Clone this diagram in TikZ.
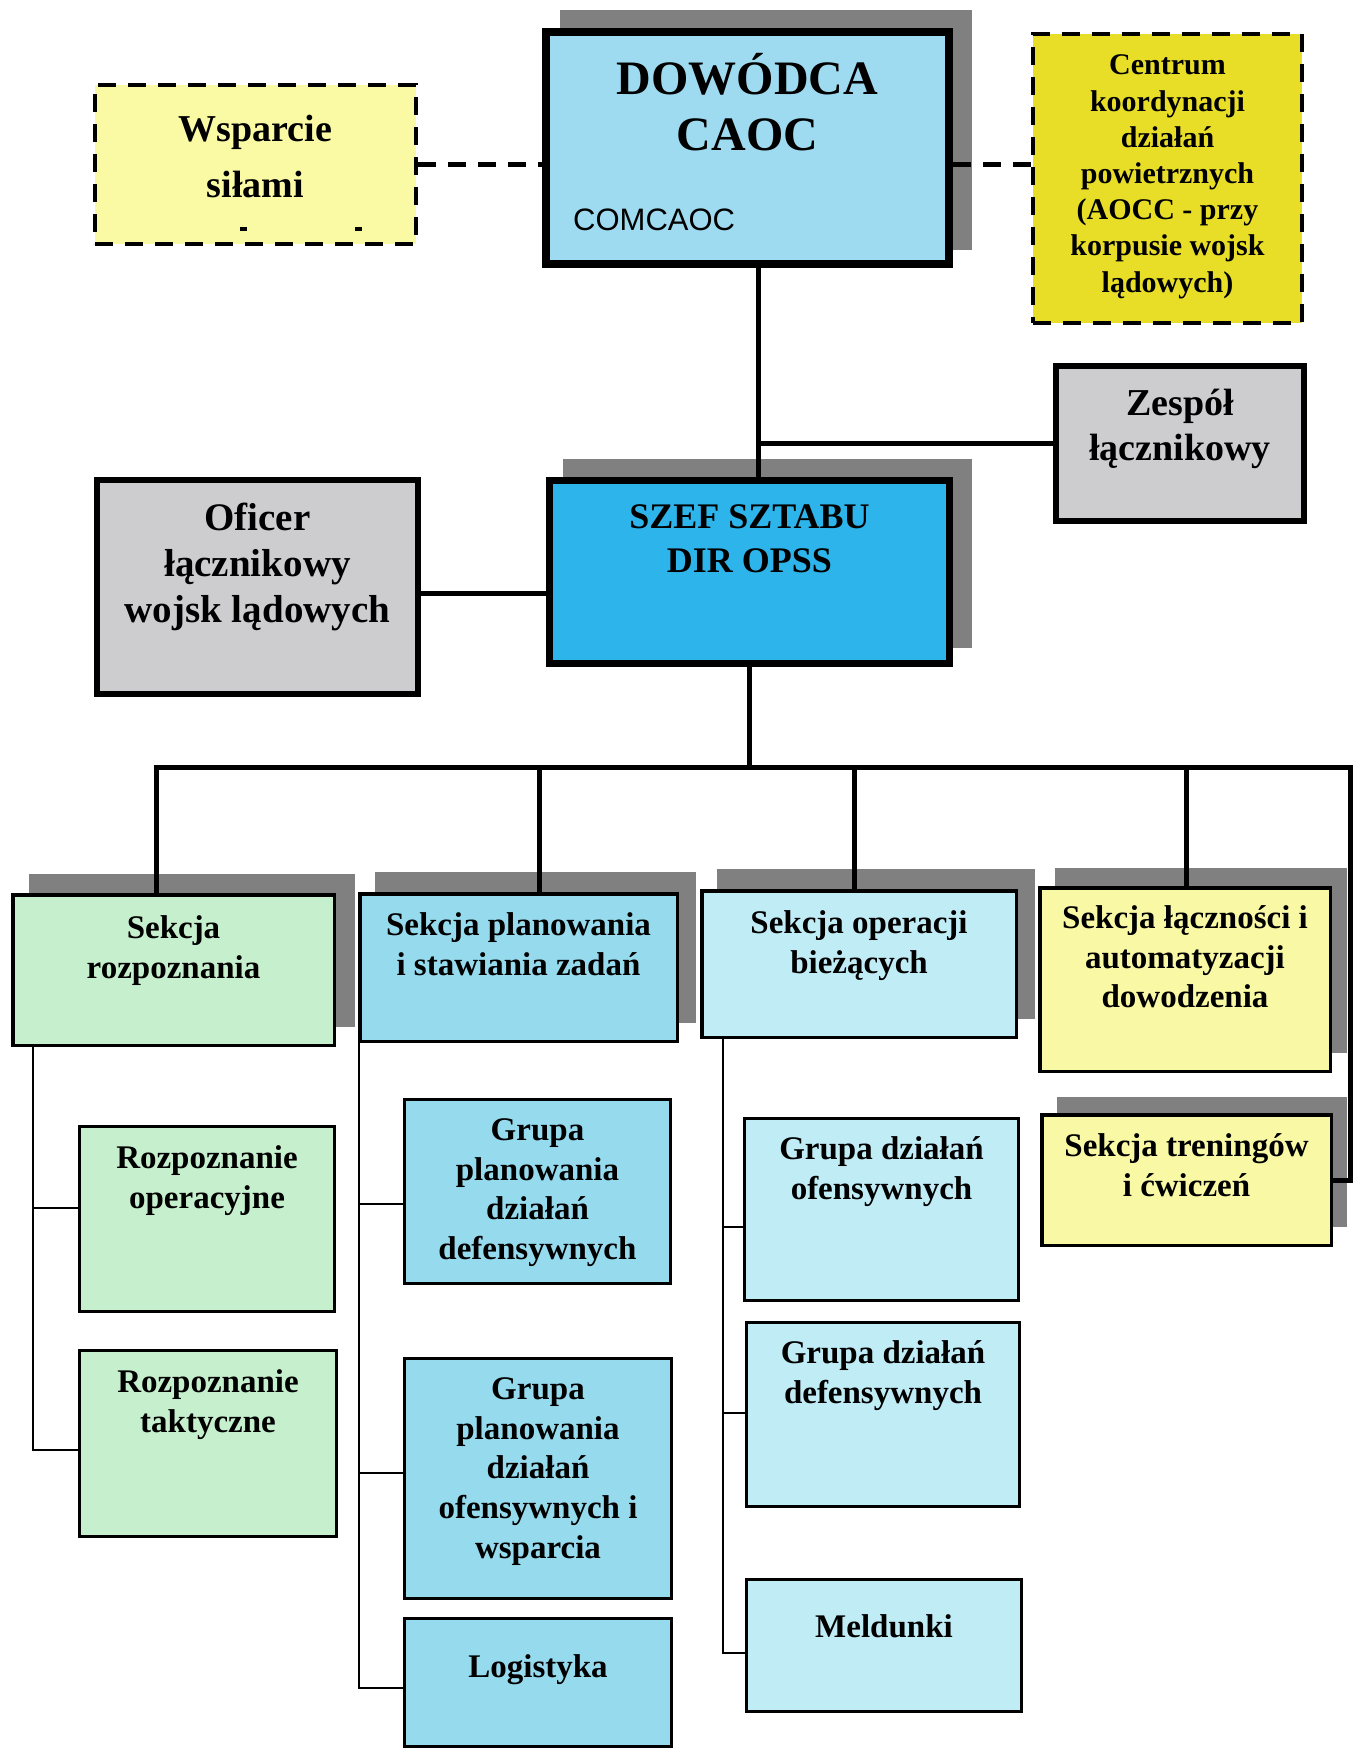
\documentclass[tikz,border=0pt]{standalone}
\usepackage{fontspec}
\setmainfont{Liberation Serif}
\setsansfont{Liberation Sans}
\usetikzlibrary{calc}

\definecolor{cmdblue}{RGB}{158,218,240}
\definecolor{wspyellow}{RGB}{250,250,165}
\definecolor{cenyellow}{RGB}{232,222,40}
\definecolor{greybox}{RGB}{205,205,208}
\definecolor{szefblue}{RGB}{45,180,235}
\definecolor{secgreen}{RGB}{198,240,205}
\definecolor{secblue}{RGB}{150,218,238}
\definecolor{seccyan}{RGB}{192,236,246}
\definecolor{secyellow}{RGB}{248,248,165}
\definecolor{shadowgrey}{RGB}{128,128,128}

% strut one em high, so every first line starts at the same height
\newcommand\tstrut{\rule{0pt}{1em}}

\begin{document}
\begin{tikzpicture}[x=1pt,y=-1pt,
  box/.style={draw=black, rectangle, inner sep=0pt},
  dbox/.style={box, line width=4.5pt, dash pattern=on 18pt off 12pt},
  secbox/.style={box, line width=3.5pt},
  subbox/.style={box, line width=3pt},
  lb/.style={anchor=north, align=center, inner sep=0pt},
  fbig/.style={font=\bfseries\fontsize{48}{56}\selectfont},
  fcen/.style={font=\bfseries\fontsize{30}{36.2}\selectfont},
  fszef/.style={font=\bfseries\fontsize{36}{44}\selectfont},
  fsec/.style={font=\bfseries\fontsize{33}{39.8}\selectfont},
  trunk/.style={line width=5pt},
  branch/.style={line width=2.7pt},
  dashline/.style={line width=4.5pt, dash pattern=on 18pt off 12pt},
  shade/.style={fill=shadowgrey}
]
\fill[white] (0,0) rectangle (1359,1750);
\useasboundingbox (0,0) rectangle (1359,1750);

% drop shadows behind the raised boxes
\fill[shade] (560,10) rectangle (972,250);
\fill[shade] (563,459) rectangle (972,648);
\fill[shade] (29,874) rectangle (355,1027);
\fill[shade] (375,872) rectangle (696,1023);
\fill[shade] (717,869) rectangle (1035,1019);
\fill[shade] (1055,868) rectangle (1347,1053);
\fill[shade] (1057,1097) rectangle (1347,1227);

% top level
\node[box, line width=8pt, fill=cmdblue, minimum width=403, minimum height=232,
  label={[lb, fbig, yshift=-18pt]north:{\tstrut DOWÓDCA\\CAOC}},
  label={[inner sep=0pt, anchor=base west, font=\sffamily\fontsize{31}{36}\selectfont, xshift=31pt, yshift=38pt]south west:COMCAOC}]
  (cmd) at (747.5,148) {};

\node[dbox, fill=wspyellow, minimum width=321, minimum height=159,
  label={[lb, yshift=-21pt, font=\bfseries\fontsize{38}{56}\selectfont]north:{\tstrut Wsparcie\\siłami}}]
  (wsp) at (255.5,164.5) {};
\fill (240,227) rectangle (247,231);
\fill (355,227) rectangle (362,231);

\node[dbox, fill=cenyellow, minimum width=269, minimum height=289,
  label={[lb, fcen, yshift=-13pt]north:{\tstrut Centrum\\koordynacji\\działań\\powietrznych\\(AOCC - przy\\korpusie wojsk\\lądowych)}}]
  (cen) at (1167.5,178.5) {};

\node[box, line width=6pt, fill=greybox, minimum width=248, minimum height=155,
  label={[lb, yshift=-14pt, font=\bfseries\fontsize{38}{45}\selectfont]north:{\tstrut Zespół\\łącznikowy}}]
  (zes) at (1180,443.5) {};

\node[box, line width=6pt, fill=greybox, minimum width=321, minimum height=214,
  label={[lb, yshift=-14pt, font=\bfseries\fontsize{39}{46}\selectfont]north:{\tstrut Oficer\\łącznikowy\\wojsk lądowych}}]
  (ofi) at (257.5,587) {};

\node[box, line width=7pt, fill=szefblue, minimum width=400, minimum height=183,
  label={[lb, fszef, yshift=-15pt]north:{\tstrut SZEF SZTABU\\DIR OPSS}}]
  (szef) at (749.5,572) {};

% sections
\node[secbox, fill=secgreen, minimum width=321.5, minimum height=150.5,
  label={[lb, fsec, yshift=-12pt]north:{\tstrut Sekcja\\rozpoznania}}]
  (s1) at (173.5,970) {};
\node[secbox, fill=secblue, minimum width=317.5, minimum height=147.5,
  label={[lb, fsec, yshift=-10pt]north:{\tstrut Sekcja planowania\\i stawiania zadań}}]
  (s2) at (518.5,967.5) {};
\node[secbox, fill=seccyan, minimum width=314.5, minimum height=146.5,
  label={[lb, fsec, yshift=-11pt]north:{\tstrut Sekcja operacji\\bieżących}}]
  (s3) at (859,964) {};
\node[secbox, fill=secyellow, minimum width=290.5, minimum height=183.5,
  label={[lb, fsec, yshift=-9pt]north:{\tstrut Sekcja łączności i\\automatyzacji\\dowodzenia}}]
  (s4) at (1185,979.5) {};
\node[secbox, fill=secyellow, minimum width=289.5, minimum height=130.5,
  label={[lb, fsec, yshift=-10pt]north:{\tstrut Sekcja treningów\\i ćwiczeń}}]
  (s5) at (1186.5,1180) {};

% groups under the sections
\node[subbox, fill=secgreen, minimum width=255, minimum height=185,
  label={[lb, fsec, yshift=-10pt]north:{\tstrut Rozpoznanie\\operacyjne}}]
  (g1a) at (207,1219) {};
\node[subbox, fill=secgreen, minimum width=257, minimum height=186,
  label={[lb, fsec, yshift=-10pt]north:{\tstrut Rozpoznanie\\taktyczne}}]
  (g1b) at (208,1443.5) {};

\node[subbox, fill=secblue, minimum width=266, minimum height=184,
  label={[lb, fsec, yshift=-9pt]north:{\tstrut Grupa\\planowania\\działań\\defensywnych}}]
  (g2a) at (537.5,1191.5) {};
\node[subbox, fill=secblue, minimum width=267, minimum height=240,
  label={[lb, fsec, yshift=-9pt]north:{\tstrut Grupa\\planowania\\działań\\ofensywnych i\\wsparcia}}]
  (g2b) at (538,1478.5) {};
\node[subbox, fill=secblue, minimum width=267, minimum height=128,
  label={[lb, fsec, yshift=-27pt]north:{\tstrut Logistyka}}]
  (g2c) at (538,1682.5) {};

\node[subbox, fill=seccyan, minimum width=274, minimum height=182,
  label={[lb, fsec, yshift=-9pt]north:{\tstrut Grupa działań\\ofensywnych}}]
  (g3a) at (881.5,1209.5) {};
\node[subbox, fill=seccyan, minimum width=273, minimum height=184,
  label={[lb, fsec, yshift=-9pt]north:{\tstrut Grupa działań\\defensywnych}}]
  (g3b) at (883,1414.5) {};
\node[subbox, fill=seccyan, minimum width=275, minimum height=132,
  label={[lb, fsec, yshift=-26pt]north:{\tstrut Meldunki}}]
  (g3c) at (884,1645.5) {};

% dashed links of the commander
\draw[dashline] (wsp.east) -- (wsp.east -| cmd.west);
\draw[dashline] (cmd.east |- wsp.east) -- (cen.west |- wsp.east);

% command trunk
\coordinate (tx) at (758,0);
\draw[trunk] (cmd.south -| tx) -- (szef.north -| tx);
\draw[trunk] (zes.west) -- (zes.west -| tx);
\draw[trunk] ([yshift=-6pt]ofi.east) -- ([yshift=-6pt]ofi.east -| szef.west);

% bus to the sections
\coordinate (busL) at (156,767);
\coordinate (busR) at (1350,767);
\coordinate (b2) at (539,767);
\coordinate (b3) at (854,767);
\coordinate (b4) at (1186,767);
\draw[trunk] (szef.south) -- (szef.south |- busL);
\draw[trunk, line join=miter] (busL |- s1.north) -- (busL) -- (busR) -- (busR |- s5.east) -- (s5.east);
\draw[trunk] (b2) -- (b2 |- s2.north);
\draw[trunk] (b3) -- (b3 |- s3.north);
\draw[trunk] (b4) -- (b4 |- s4.north);

% branches inside the sections
\coordinate (c1) at (33,0);
\draw[branch] (c1 |- s1.south) -- ([yshift=-6.5pt]g1b.west -| c1) -- ([yshift=-6.5pt]g1b.west);
\draw[branch] ([yshift=11pt]g1a.west -| c1) -- ([yshift=11pt]g1a.west);

\coordinate (c2) at (359,0);
\draw[branch] (c2 |- s2.south) -- ([yshift=-5.5pt]g2c.west -| c2) -- ([yshift=-5.5pt]g2c.west);
\draw[branch] ([yshift=-12.5pt]g2a.west -| c2) -- ([yshift=-12.5pt]g2a.west);
\draw[branch] ([yshift=5.5pt]g2b.west -| c2) -- ([yshift=5.5pt]g2b.west);

\coordinate (c3) at (723,0);
\draw[branch] (c3 |- s3.south) -- ([yshift=-7.5pt]g3c.west -| c3) -- ([yshift=-7.5pt]g3c.west);
\draw[branch] ([yshift=-17.5pt]g3a.west -| c3) -- ([yshift=-17.5pt]g3a.west);
\draw[branch] ([yshift=1.5pt]g3b.west -| c3) -- ([yshift=1.5pt]g3b.west);
\end{tikzpicture}
\end{document}
